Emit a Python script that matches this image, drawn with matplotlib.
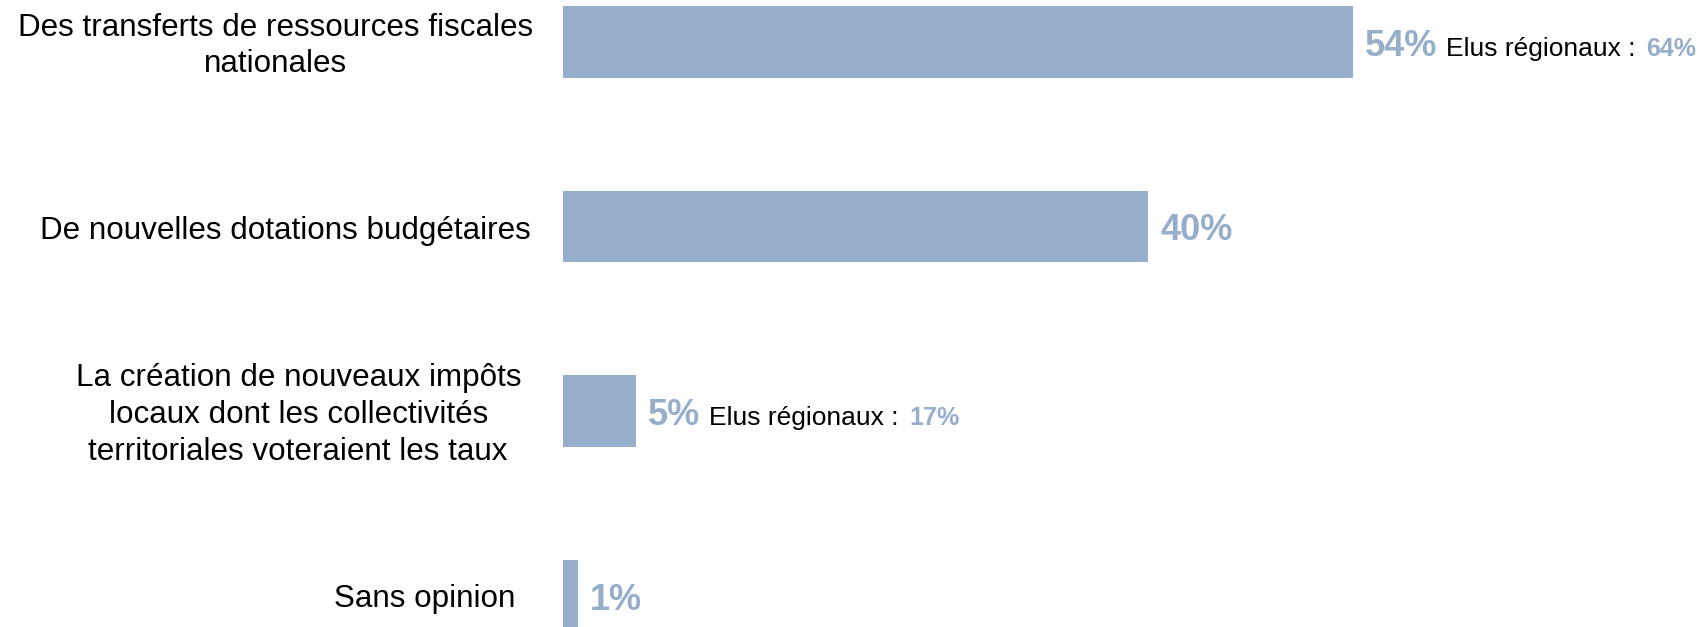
import matplotlib.pyplot as plt

plt.rcParams['font.family'] = ['Liberation Sans', 'DejaVu Sans']

categories = [
    'Des transferts de ressources fiscales\nnationales',
    'De nouvelles dotations budgétaires',
    'La création de nouveaux impôts\nlocaux dont les collectivités\nterritoriales voteraient les taux',
    'Sans opinion',
]
values = [54, 40, 5, 1]
# score among regional elected officials (only shown for some rows)
elus_regionaux = [64, None, 17, None]

bar_color = '#96aeca'

fig = plt.figure(figsize=(17.03, 6.27), dpi=100)
ax = fig.add_axes([563 / 1703, 0, 1140 / 1703, 1])
px_per_pct = 14.63
ax.set_xlim(0, 1140 / px_per_pct)
ax.set_ylim(3 + 31.5 / 184.5, -42 / 184.5)
ax.axis('off')

y = list(range(len(categories)))
ax.barh(y, values, height=0.385, color=bar_color)

# right edge of the category labels, in pixels left of the bars
label_pad = [30, 32, 42, 48]

for i, (cat, v, er) in enumerate(zip(categories, values, elus_regionaux)):
    ax.annotate(cat, xy=(0, i), xytext=(-label_pad[i], -4), textcoords='offset pixels',
                ha='right', va='center', multialignment='center',
                fontsize=22.6, linespacing=1.3, color='black')
    t = ax.annotate(f'{v}%', xy=(v, i), xytext=(12, -14), textcoords='offset pixels',
                    ha='left', va='baseline', fontsize=26, fontweight='bold',
                    color=bar_color)
    if er is not None:
        t2 = ax.annotate('Elus régionaux :', xy=(1, i), xycoords=(t, 'data'),
                         xytext=(9, -14), textcoords='offset pixels',
                         ha='left', va='baseline', fontsize=19, color='black')
        ax.annotate(f'{er}%', xy=(1, i), xycoords=(t2, 'data'),
                    xytext=(10, -14), textcoords='offset pixels',
                    ha='left', va='baseline', fontsize=18, fontweight='bold',
                    color=bar_color)

fig.savefig('out.png', dpi=100)
